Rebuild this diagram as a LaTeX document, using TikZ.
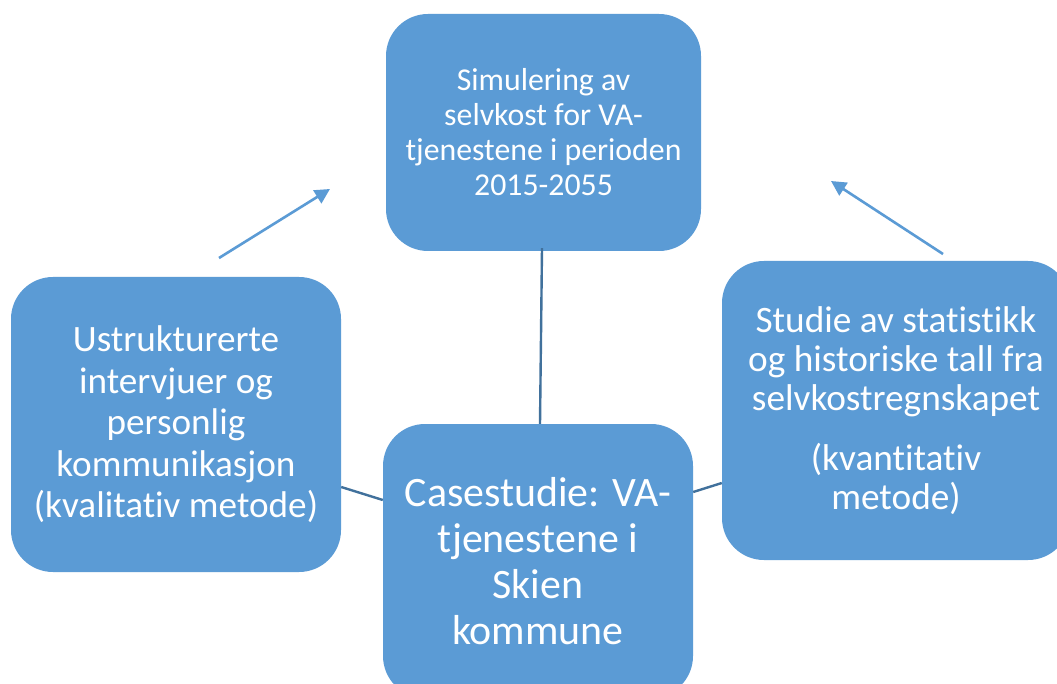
\documentclass[tikz,border=0pt]{standalone}
\usepackage{fontspec}
\setmainfont[RawFeature={-liga}]{Carlito}
\usetikzlibrary{arrows.meta}
\definecolor{boxblue}{HTML}{5B9BD5}
\definecolor{linkblue}{HTML}{41719C}
\tikzset{
  card/.style={rectangle, rounded corners=42pt, fill=boxblue, draw=none, text=white, align=center, inner sep=0pt},
  link/.style={draw=linkblue, line width=2.4pt},
  flow/.style={draw=boxblue, line width=2.6pt, -{Triangle[length=15pt,width=15pt]}}
}
\begin{document}
\begin{tikzpicture}[x=1pt,y=-1pt]
\useasboundingbox (0,0) rectangle (1057,684);
\clip (0,0) rectangle (1057,684);
\fill[white] (0,0) rectangle (1057,684);
\node[card, minimum width=315pt, minimum height=237pt, font=\fontsize{31.8}{35}\selectfont] (top) at (543.5,132.5)
  {Simulering av\\selvkost for VA-\\tjenestene i perioden\\2015-2055};
\node[card, minimum width=330pt, minimum height=295pt, font=\fontsize{37.2}{41.5}\selectfont] (left) at (176,424.5)
  {Ustrukturerte\\intervjuer og\\personlig\\kommunikasjon\\(kvalitativ metode)};
\node[card, minimum width=348pt, minimum height=299pt, font=\fontsize{37.3}{39}\selectfont] (right) at (896,410.5)
  {Studie av statistikk\\og historiske tall fra\\selvkostregnskapet\\[21pt](kvantitativ\\metode)};
\node[card, minimum width=310pt, minimum height=274pt, font=\fontsize{41.9}{46}\selectfont] (mid) at (538,561)
  {Casestudie: VA-\\tjenestene i\\Skien\\kommune};
% connectors
\draw[link] ([xshift=-1.5pt,yshift=3pt]top.south) -- ([xshift=2pt]mid.north);
\draw[link] (left.east |- 0,487) -- (mid.west |- 0,500);
\draw[link] (mid.east |- 0,492) -- (right.west |- 0,483);
% arrows
\coordinate (la0) at (219,258);
\coordinate (la1) at (330,189);
\coordinate (ra0) at (943,254);
\coordinate (ra1) at (831,181);
\draw[flow] (la0) -- (la1);
\draw[flow] (ra0) -- (ra1);
\end{tikzpicture}
\end{document}
